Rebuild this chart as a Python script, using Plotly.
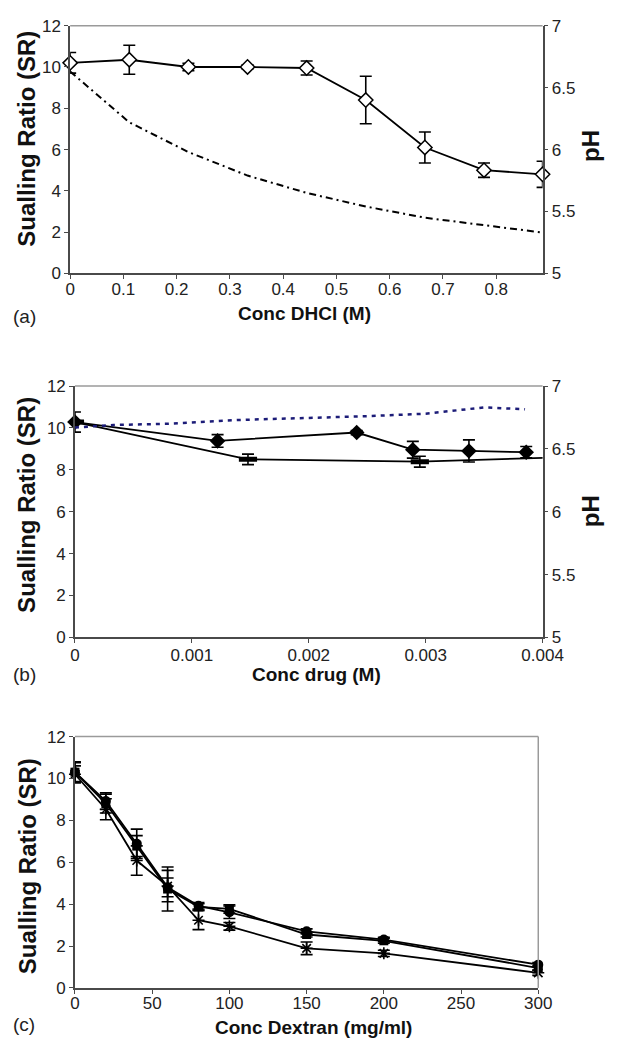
import plotly.graph_objects as go

# ---- (a) swelling ratio and pH versus DHCl concentration ----
conc_dhcl = [0, 0.111, 0.222, 0.333, 0.444, 0.555, 0.666, 0.777, 0.887]
sr_dhcl = [10.2, 10.35, 10.0, 10.0, 9.95, 8.4, 6.1, 5.0, 4.8]
sr_dhcl_err = [0.5, 0.7, 0.18, 0.1, 0.34, 1.15, 0.75, 0.35, 0.63]
ph_dhcl = [6.63, 6.22, 5.98, 5.79, 5.65, 5.54, 5.45, 5.39, 5.33]

# ---- (b) swelling ratio and pH versus drug concentration ----
conc_drug_1 = [0, 0.00122, 0.00241, 0.00289, 0.00337, 0.00386]
sr_drug_1 = [10.28, 9.38, 9.78, 8.96, 8.9, 8.84]
sr_drug_1_err = [0.48, 0.3, 0.1, 0.4, 0.53, 0.27]
conc_drug_2 = [0, 0.00148, 0.00295, 0.00406]
sr_drug_2 = [10.28, 8.5, 8.39, 8.58]
sr_drug_2_err = [0.0, 0.25, 0.26, 0.0]
conc_drug_ph = [0, 0.00033, 0.0008, 0.0014, 0.0025, 0.003, 0.0033, 0.0035, 0.00385]
ph_drug = [6.67, 6.69, 6.7, 6.73, 6.76, 6.78, 6.81, 6.83, 6.815]

# ---- (c) swelling ratio versus dextran concentration ----
conc_dextran = [0, 20, 40, 60, 80, 100, 150, 200, 300]
sr_dex_circle = [10.3, 8.92, 6.88, 4.8, 3.92, 3.61, 2.7, 2.31, 1.11]
sr_dex_circle_err = [0.45, 0.4, 0.7, 0.45, 0.15, 0.3, 0.12, 0.1, 0.1]
sr_dex_square = [10.3, 8.8, 6.77, 4.72, 3.87, 3.77, 2.55, 2.25, 0.95]
sr_dex_square_err = [0.5, 0.45, 0.5, 1.05, 0.15, 0.2, 0.12, 0.12, 0.1]
sr_dex_star = [10.2, 8.53, 6.08, 4.86, 3.23, 2.94, 1.89, 1.65, 0.72]
sr_dex_star_err = [0.4, 0.5, 0.7, 0.75, 0.45, 0.18, 0.3, 0.15, 0.12]

W, H = 623, 1047
FONT = "Liberation Sans, Arial, sans-serif"
AXIS_COL = "#4a4a4a"
FRAME_COL = "#9a9a9a"


def px_x(v):
    return v / W


def px_y(v):
    return 1 - v / H


# plot-area rectangles (left, top, right, bottom) in pixels
box_a = (68, 17, 561, 269.3)
box_b = (73, 384, 561, 640)
box_c = (73, 741, 556.5, 997)


def err(arr, w=6):
    return dict(type="data", array=arr, visible=True, color="black",
                thickness=1.6, width=w)


fig = go.Figure()

# (a)
fig.add_trace(go.Scatter(
    x=conc_dhcl, y=ph_dhcl, xaxis="x", yaxis="y2", mode="lines",
    line=dict(color="black", width=2, dash="7px,4px,2px,4px"),
    showlegend=False, cliponaxis=False))
fig.add_trace(go.Scatter(
    x=conc_dhcl, y=sr_dhcl, xaxis="x", yaxis="y", mode="lines+markers",
    line=dict(color="black", width=1.8),
    marker=dict(symbol="diamond", size=11, color="white",
                line=dict(color="black", width=1.5)),
    error_y=err(sr_dhcl_err), showlegend=False, cliponaxis=False))

# (b)
fig.add_trace(go.Scatter(
    x=conc_drug_ph, y=ph_drug, xaxis="x2", yaxis="y4", mode="lines",
    line=dict(color="#1c1c78", width=2.5, dash="4px,5px"),
    showlegend=False))
fig.add_trace(go.Scatter(
    x=conc_drug_2, y=sr_drug_2, xaxis="x2", yaxis="y3", mode="lines+markers",
    line=dict(color="black", width=1.8),
    marker=dict(symbol="line-ew", size=13, color="black",
                line=dict(color="black", width=5)),
    error_y=err(sr_drug_2_err), showlegend=False))
fig.add_trace(go.Scatter(
    x=conc_drug_1, y=sr_drug_1, xaxis="x2", yaxis="y3", mode="lines+markers",
    line=dict(color="black", width=1.8),
    marker=dict(symbol="diamond", size=12, color="black"),
    error_y=err(sr_drug_1_err), showlegend=False, cliponaxis=False))

# (c)
fig.add_trace(go.Scatter(
    x=conc_dextran, y=sr_dex_star, xaxis="x3", yaxis="y5", mode="lines+markers",
    line=dict(color="black", width=1.8),
    marker=dict(symbol="asterisk-open", size=10, color="black",
                line=dict(color="black", width=1.6)),
    error_y=err(sr_dex_star_err), showlegend=False, cliponaxis=False))
fig.add_trace(go.Scatter(
    x=conc_dextran, y=sr_dex_square, xaxis="x3", yaxis="y5", mode="lines+markers",
    line=dict(color="black", width=1.8),
    marker=dict(symbol="square", size=9, color="black"),
    error_y=err(sr_dex_square_err), showlegend=False, cliponaxis=False))
fig.add_trace(go.Scatter(
    x=conc_dextran, y=sr_dex_circle, xaxis="x3", yaxis="y5", mode="lines+markers",
    line=dict(color="black", width=1.8),
    marker=dict(symbol="circle", size=10, color="black"),
    error_y=err(sr_dex_circle_err), showlegend=False, cliponaxis=False))

tickfont = dict(family=FONT, size=17, color="#222")


def xaxis(box, rng, tickvals, ticktext, anchor, standoff=-5):
    return dict(domain=[px_x(box[0]), px_x(box[2])], range=rng, anchor=anchor,
                tickvals=tickvals, ticktext=ticktext, showgrid=False,
                zeroline=False, showline=True, linecolor=AXIS_COL, linewidth=1.5,
                ticks="outside", ticklen=4, tickcolor=AXIS_COL, tickwidth=1,
                ticklabelstandoff=standoff, tickfont=tickfont, fixedrange=True)


def yaxis(box, anchor, side="left", rng=(0, 12), tickvals=None, ticktext=None,
          overlaying=None):
    d = dict(domain=[px_y(box[3]), px_y(box[1])], range=list(rng), anchor=anchor,
             side=side, showgrid=False, zeroline=False, showline=True,
             linecolor=AXIS_COL, linewidth=1.5, ticks="outside", ticklen=4,
             tickcolor=AXIS_COL, tickwidth=1, tickfont=tickfont, fixedrange=True,
             tickvals=tickvals, ticktext=ticktext)
    if overlaying:
        d["overlaying"] = overlaying
    return d


sr_ticks = [0, 2, 4, 6, 8, 10, 12]
sr_text = [str(v) for v in sr_ticks]
ph_ticks = [5, 5.5, 6, 6.5, 7]
ph_text = ["5", "5.5", "6", "6.5", "7"]

fig.update_layout(
    width=W, height=H, margin=dict(l=0, r=0, t=0, b=0),
    paper_bgcolor="white", plot_bgcolor="white",
    font=dict(family=FONT, color="#222"),
    xaxis=xaxis(box_a, [0, 0.887], [0, 0.1, 0.2, 0.3, 0.4, 0.5, 0.6, 0.7, 0.8],
                ["0", "0.1", "0.2", "0.3", "0.4", "0.5", "0.6", "0.7", "0.8"], "y"),
    yaxis=yaxis(box_a, "x", tickvals=sr_ticks, ticktext=sr_text),
    yaxis2=yaxis(box_a, "x", side="right", rng=(5, 7), tickvals=ph_ticks,
                 ticktext=ph_text, overlaying="y"),
    xaxis2=xaxis(box_b, [0, 0.004], [0, 0.001, 0.002, 0.003, 0.004],
                 ["0", "0.001", "0.002", "0.003", "0.004"], "y3", standoff=-3),
    yaxis3=yaxis(box_b, "x2", tickvals=sr_ticks, ticktext=sr_text),
    yaxis4=yaxis(box_b, "x2", side="right", rng=(5, 7), tickvals=ph_ticks,
                 ticktext=ph_text, overlaying="y3"),
    xaxis3=xaxis(box_c, [0, 300], [0, 50, 100, 150, 200, 250, 300],
                 ["0", "50", "100", "150", "200", "250", "300"], "y5"),
    yaxis5=yaxis(box_c, "x3", tickvals=sr_ticks, ticktext=sr_text),
)

# light grey frame edges (top of every panel, right side of panel c)
shapes = []
for box in (box_a, box_b, box_c):
    shapes.append(dict(type="line", xref="paper", yref="paper",
                       x0=px_x(box[0]), x1=px_x(box[2]),
                       y0=px_y(box[1]), y1=px_y(box[1]),
                       line=dict(color=FRAME_COL, width=1.5)))
shapes.append(dict(type="line", xref="paper", yref="paper",
                   x0=px_x(box_c[2]), x1=px_x(box_c[2]),
                   y0=px_y(box_c[3]), y1=px_y(box_c[1]),
                   line=dict(color=FRAME_COL, width=1.5)))
fig.update_layout(shapes=shapes)

title_font = dict(family=FONT, size=19, color="#111")
ytitle_font = dict(family=FONT, size=24, color="#111")
label_font = dict(family=FONT, size=19, color="#222")

annotations = []


def add_text(text, x, y, font, angle=0):
    annotations.append(dict(text=text, x=px_x(x), y=px_y(y), xref="paper",
                            yref="paper", showarrow=False, font=font,
                            textangle=angle, xanchor="center", yanchor="middle"))


add_text("<b>Conc DHCl (M)</b>", 313, 310, title_font)
add_text("<b>Conc drug (M)</b>", 325, 678, title_font)
add_text("<b>Conc Dextran (mg/ml)</b>", 322, 1037, title_font)
for yc in (132, 505, 873):
    add_text("<b>Sualling Ratio (SR)</b>", 23, yc, ytitle_font, -90)
add_text("<b>pH</b>", 611, 140, ytitle_font, -90)
add_text("<b>pH</b>", 611, 512, ytitle_font, -90)
add_text("(a)", 20, 313, label_font)
add_text("(b)", 20, 678, label_font)
add_text("(c)", 20, 1034, label_font)
fig.update_layout(annotations=annotations)

fig.write_html("out.html")
